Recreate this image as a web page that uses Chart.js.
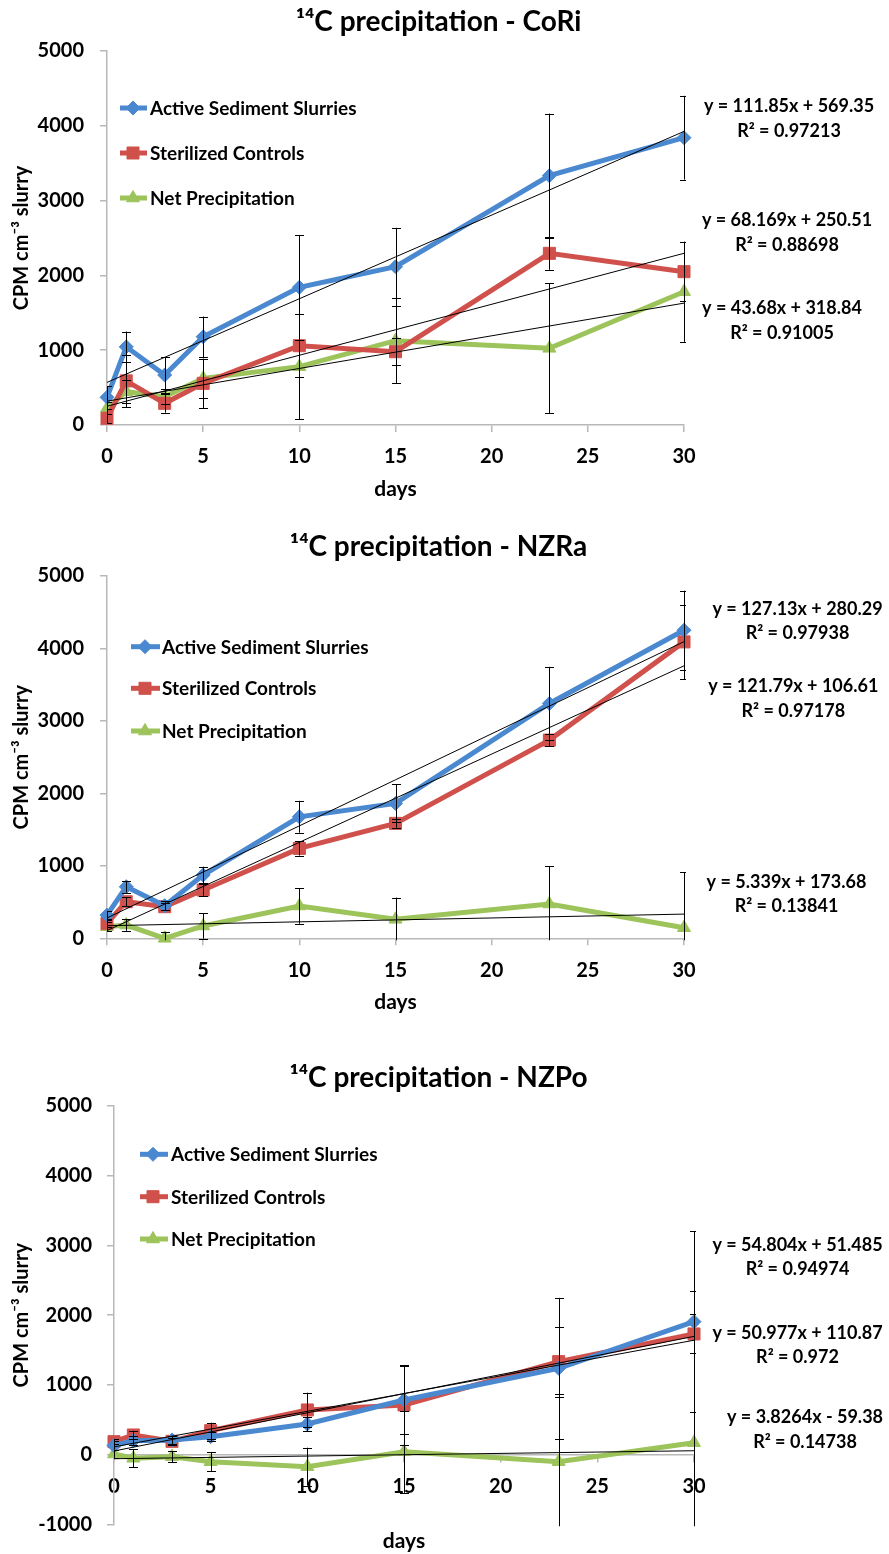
<!DOCTYPE html>
<html>
<head>
<meta charset="utf-8">
<script src="https://cdn.jsdelivr.net/npm/chart.js@4.4.1/dist/chart.umd.min.js"></script>
<style>
  html, body { margin: 0; padding: 0; background: #fff; }
  .box { position: relative; width: 889px; }
  canvas { display: block; }
</style>
</head>
<body>
<div class="box" style="height:505px"><canvas id="c1"></canvas></div>
<div class="box" style="height:545px"><canvas id="c2"></canvas></div>
<div class="box" style="height:504px"><canvas id="c3"></canvas></div>
<script>
// sampling days (x axis)
const days = [0, 1, 3, 5, 10, 15, 23, 30];
const seriesNames = ["Active Sediment Slurries", "Sterilized Controls", "Net Precipitation"];

// CoRi
const coriActive = [370, 1045, 668, 1180, 1841, 2116, 3333, 3841];
const coriActiveErr = [150, 205, 237, 270, 700, 520, 830, 560];
const coriSterile = [90, 590, 290, 557, 1060, 980, 2295, 2050];
const coriSterileErr = [60, 350, 125, 330, 420, 180, 220, 390];
const coriNet = [223, 445, 378, 624, 780, 1127, 1025, 1782];
const coriNetErr = [80, 150, 100, 260, 705, 565, 870, 670];
const coriSlope = [111.85, 68.169, 43.68];
const coriIntercept = [569.35, 250.51, 318.84];
const coriR2 = ["0.97213", "0.88698", "0.91005"];

// NZRa
const nzraActive = [320, 712, 450, 873, 1677, 1862, 3241, 4252];
const nzraActiveErr = [60, 80, 60, 115, 220, 262, 505, 545];
const nzraSterile = [207, 505, 436, 666, 1241, 1586, 2735, 4091];
const nzraSterileErr = [50, 60, 50, 80, 100, 60, 80, 515];
const nzraNet = [160, 183, 0, 170, 446, 262, 473, 146];
const nzraNetErr = [60, 80, 90, 175, 245, 300, 525, 765];
const nzraSlope = [127.13, 121.79, 5.339];
const nzraIntercept = [280.29, 106.61, 173.68];
const nzraR2 = ["0.97938", "0.97178", "0.13841"];

// NZPo
const nzpoActive = [130, 200, 210, 257, 439, 783, 1238, 1907];
const nzpoActiveErr = [60, 60, 60, 60, 100, 490, 1010, 1300];
const nzpoSterile = [185, 281, 190, 343, 640, 712, 1333, 1730];
const nzpoSterileErr = [40, 60, 50, 115, 248, 570, 500, 280];
const nzpoNet = [8, -53, -30, -102, -173, 42, -102, 171];
const nzpoNetErr = [60, 130, 80, 140, 272, 590, 970, 2180];
const nzpoSlope = [54.804, 50.977, 3.8264];
const nzpoIntercept = [51.485, 110.87, -59.38];
const nzpoR2 = ["0.94974", "0.972", "0.14738"];

const colors = ["#4A88D0", "#D0504B", "#9DC35B"];
const markers = ["rectRot", "rect", "triangle"];
const markerSize = [7, 8.5, 7.5];
const FONT = "Lato, 'DejaVu Sans', sans-serif";

Chart.defaults.font.family = FONT;
Chart.defaults.color = "#000";

// error bars drawn from the dataset's errorBars array
const errorBarPlugin = {
    id: "errorBars",
    afterDatasetsDraw(chart) {
        const ctx = chart.ctx;
        const xs = chart.scales.x, ys = chart.scales.y;
        const a = chart.chartArea;
        ctx.save();
        ctx.beginPath();
        ctx.rect(a.left, a.top - 2, a.right - a.left + 2, a.bottom - a.top + 4);
        ctx.clip();
        ctx.strokeStyle = "#000";
        ctx.lineWidth = 1;
        chart.data.datasets.forEach(ds => {
            if (!ds.errorBars) return;
            ds.data.forEach((p, i) => {
                const e = ds.errorBars[i];
                const x = Math.round(xs.getPixelForValue(p.x)) + 0.5;
                const y1 = ys.getPixelForValue(p.y + e);
                const y2 = ys.getPixelForValue(p.y - e);
                ctx.beginPath();
                ctx.moveTo(x, y1); ctx.lineTo(x, y2);
                ctx.moveTo(x - 4.5, Math.round(y1) + 0.5); ctx.lineTo(x + 4.5, Math.round(y1) + 0.5);
                ctx.moveTo(x - 4.5, Math.round(y2) + 0.5); ctx.lineTo(x + 4.5, Math.round(y2) + 0.5);
                ctx.stroke();
            });
        });
        ctx.restore();
    }
};

// legend drawn inside the plot area
const innerLegendPlugin = {
    id: "innerLegend",
    afterDraw(chart, args, opts) {
        const ctx = chart.ctx;
        ctx.save();
        seriesNames.forEach((name, i) => {
            const y = opts.rows[i];
            ctx.strokeStyle = colors[i];
            ctx.lineWidth = 5;
            ctx.beginPath();
            ctx.moveTo(opts.x1, y); ctx.lineTo(opts.x2, y);
            ctx.stroke();
            ctx.fillStyle = colors[i];
            ctx.strokeStyle = colors[i];
            ctx.lineWidth = 1;
            Chart.helpers.drawPoint(ctx, { pointStyle: markers[i], radius: markerSize[i], rotation: 0, borderWidth: 1 }, opts.mx, y);
            ctx.fillStyle = "#000";
            ctx.font = "bold 19px " + FONT;
            ctx.textBaseline = "middle";
            ctx.textAlign = "left";
            ctx.fillText(name, opts.tx, y + 1);
        });
        ctx.restore();
    }
};

// trend line equations beside the plot
const trendLabelPlugin = {
    id: "trendLabels",
    afterDraw(chart, args, opts) {
        const ctx = chart.ctx;
        ctx.save();
        ctx.fillStyle = "#000";
        ctx.font = "bold 18px " + FONT;
        ctx.textAlign = "center";
        ctx.textBaseline = "middle";
        opts.items.forEach(it => {
            ctx.fillText(it.eq, it.x, it.y1);
            ctx.fillText(it.r2, it.x, it.y2);
        });
        ctx.restore();
    }
};

function points(vals) {
    return days.map((d, i) => ({ x: d, y: vals[i] }));
}

function eqText(m, b) {
    return "y = " + m + "x " + (b < 0 ? "- " : "+ ") + Math.abs(b);
}

function makeChart(id, title, values, errors, slopes, intercepts, r2, f) {
    const datasets = [];
    values.forEach((vals, i) => {
        datasets.push({
            type: "line",
            label: seriesNames[i],
            data: points(vals),
            errorBars: errors[i],
            yAxisID: "y",
            borderColor: colors[i],
            backgroundColor: colors[i],
            borderWidth: 5,
            pointStyle: markers[i],
            pointRadius: markerSize[i],
            pointBorderWidth: 1,
            clip: false,
            order: 2
        });
    });
    const x0 = days[0], x1 = days[days.length - 1];
    slopes.forEach((m, i) => {
        datasets.push({
            type: "line",
            label: "trend " + i,
            data: [{ x: x0, y: intercepts[i] + m * x0 }, { x: x1, y: intercepts[i] + m * x1 }],
            yAxisID: "y",
            borderColor: "#000",
            borderWidth: 1,
            pointRadius: 0,
            order: 1
        });
    });

    const tickFont = { size: 20, weight: "bold" };
    const titleFont = { size: 20, weight: "bold" };
    const daysFont = { size: 21, weight: "bold" };
    const axisGrid = { display: true, drawOnChartArea: false, drawTicks: true, tickLength: 7, color: "#B8B8B8", lineWidth: 1.5 };
    const fmt = v => String(v);

    new Chart(document.getElementById(id), {
        type: "line",
        data: { datasets },
        options: {
            responsive: true,
            maintainAspectRatio: false,
            animation: false,
            layout: { padding: { top: 0, left: 0, right: 12, bottom: f.padBottom } },
            plugins: {
                legend: { display: false },
                tooltip: { enabled: false },
                title: {
                    display: true,
                    text: title,
                    color: "#000",
                    font: { size: 28, weight: "bold" },
                    padding: { top: f.titleY - 16.8, bottom: f.top - f.titleY - 16.8 }
                },
                innerLegend: f.legend,
                trendLabels: {
                    items: slopes.map((m, i) => ({
                        eq: eqText(m, intercepts[i]),
                        r2: "R\u00B2 = " + r2[i],
                        x: f.labels[i][0], y1: f.labels[i][1], y2: f.labels[i][2]
                    }))
                }
            },
            scales: {
                x: {
                    type: "linear",
                    min: 0,
                    max: 30,
                    position: f.xPos,
                    ticks: { stepSize: 5, font: tickFont, color: "#000", padding: 13, callback: fmt },
                    grid: axisGrid,
                    border: { color: "#B8B8B8", width: 1.5 },
                    title: { display: true, text: "days", color: "#000", font: daysFont, padding: { top: 0, bottom: f.daysPad } },
                    afterFit: s => { s.height = f.xHeight; }
                },
                y: {
                    position: "left",
                    min: f.yMin,
                    max: 5000,
                    ticks: { stepSize: 1000, font: tickFont, color: "#000", padding: f.yPad, callback: fmt },
                    grid: axisGrid,
                    border: { color: "#B8B8B8", width: 1.5 },
                    title: { display: true, text: "CPM cm\u207B\u00B3 slurry", color: "#000", font: titleFont, padding: { top: 10, bottom: 0 } },
                    afterFit: s => { s.width = f.left; }
                },
                // empty right-hand box keeps room for the trend equations
                y2: {
                    position: "right",
                    min: f.yMin,
                    max: 5000,
                    ticks: { display: false },
                    grid: { display: false },
                    border: { display: false },
                    afterFit: s => { s.width = 889 - 12 - f.right; }
                }
            }
        },
        plugins: [errorBarPlugin, innerLegendPlugin, trendLabelPlugin]
    });
}

makeChart("c1", "\u00B9\u2074C precipitation - CoRi",
    [coriActive, coriSterile, coriNet], [coriActiveErr, coriSterileErr, coriNetErr],
    coriSlope, coriIntercept, coriR2, {
        titleY: 22, top: 51, left: 107, right: 684, yMin: 0, yPad: 16,
        xPos: "bottom", padBottom: 0, xHeight: 505 - 425, daysPad: 505 - 489 - 12.6,
        legend: { x1: 120, x2: 147, mx: 133, tx: 150, rows: [108, 153, 198] },
        labels: [[789, 106, 130.7], [787, 220, 245], [782, 308.3, 333.3]]
    });

makeChart("c2", "\u00B9\u2074C precipitation - NZRa",
    [nzraActive, nzraSterile, nzraNet], [nzraActiveErr, nzraSterileErr, nzraNetErr],
    nzraSlope, nzraIntercept, nzraR2, {
        titleY: 41.7, top: 71, left: 107, right: 684, yMin: 0, yPad: 16,
        xPos: "bottom", padBottom: 0, xHeight: 545 - 433.3, daysPad: 545 - 497 - 12.6,
        legend: { x1: 131, x2: 160, mx: 145, tx: 162, rows: [141.7, 183.3, 226] },
        labels: [[797.5, 104.3, 127.7], [793.3, 181, 205.7], [786.5, 377.3, 401]]
    });

makeChart("c3", "\u00B9\u2074C precipitation - NZPo",
    [nzpoActive, nzpoSterile, nzpoNet], [nzpoActiveErr, nzpoSterileErr, nzpoNetErr],
    nzpoSlope, nzpoIntercept, nzpoR2, {
        titleY: 28, top: 56, left: 114, right: 694, yMin: -1000, yPad: 15,
        xPos: { y: 0 }, padBottom: 504 - 474.3, xHeight: 491.7 - 404.6 + 12.6, daysPad: 0,
        legend: { x1: 140, x2: 168, mx: 153, tx: 171, rows: [104.3, 146.7, 189] },
        labels: [[797.5, 195, 219.3], [797.5, 283.3, 306.7], [805, 367.3, 391.7]]
    });
</script>
</body>
</html>
